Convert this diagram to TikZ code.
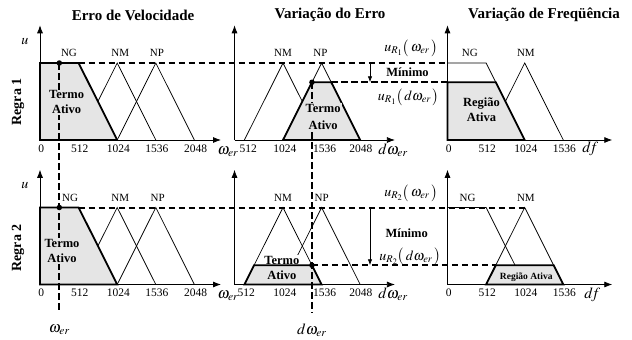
\documentclass[tikz,border=0pt]{standalone}
\usepackage{mathptmx}
\usepackage{fontspec}
\setmainfont{Liberation Serif}
\usetikzlibrary{arrows.meta}

\begin{document}
\begin{tikzpicture}[x=1pt,y=-1pt,
    axis/.style={line width=0.8pt,-{Latex[length=8pt,width=6pt]}},
    memb/.style={line width=0.75pt},
    active/.style={draw,fill=gray!20,line width=1.8pt},
    guide/.style={line width=2pt,dash pattern=on 6.5pt off 3.5pt},
    minarrow/.style={line width=0.8pt,-{Latex[length=6pt,width=4.5pt]}},
    dot/.style={circle,fill,inner sep=0pt,minimum size=5.5pt},
    ticklbl/.style={font=\fontsize{11.5}{13}\selectfont},
    setlbl/.style={font=\fontsize{11}{13}\selectfont},
    varlbl/.style={font=\fontsize{14}{16}\selectfont,inner sep=1pt},
    axlbl/.style={font=\fontsize{15.5}{17}\selectfont,inner sep=1pt},
    boldlbl/.style={font=\bfseries\fontsize{12.5}{15}\selectfont,align=center,inner sep=1pt},
    rowlbl/.style={font=\bfseries\fontsize{14}{16}\selectfont,rotate=90},
    paneltitle/.style={font=\bfseries\fontsize{15}{17}\selectfont},
  ]
  \useasboundingbox (0,0) rectangle (632,340);

  % Regra 1 -- erro de velocidade
  \begin{scope}[shift={(40,140)},x=38.6pt,y=77pt]
    \draw[axis] (0,0) -- (0,1.49);
    \draw[axis] (0,0) -- (4.69,0);
    \draw[memb] (1,0) -- (2,1) -- (3,0);
    \draw[memb] (2,0) -- (3,1) -- (4,0);
    \draw[active] (0,0) -- (0,1) -- (1,1) -- (2,0) -- cycle;
    \foreach \v/\t in {0/0,1/512,2/1024,3/1536,4/2048}
      \node[ticklbl] (eA\v) at (\v+0.03,-0.11) {\t};
    \node[setlbl] (ngA1) at (0.75,1.13) {NG};
    \node[setlbl] (nmA1) at (2.08,1.13) {NM};
    \node[setlbl] (npA1) at (3.03,1.13) {NP};
    \node[varlbl] (uA1) at (-0.39,1.28) {$u$};
    \node[axlbl] (xA1) at (4.87,-0.15) {$\omega_{er}$};
    \coordinate (wA1) at (0.5,1);
    \coordinate (cA1) at (1,1);
    \coordinate (tA1) at (0.69,0.49);
  \end{scope}

  % Regra 1 -- variacao do erro
  \begin{scope}[shift={(205.8,140)},x=38.6pt,y=77pt]
    \draw[axis] (0.744,0) -- (0.744,1.49);
    \draw[axis] (0.744,0) -- (4.90,0);
    \draw[memb] (1,0) -- (2,1) -- (3,0);
    \draw[memb] (2,0) -- (3,1) -- (4,0);
    \draw[active] (2,0) -- (2.75,0.75) -- (3.25,0.75) -- (4,0) -- cycle;
    \foreach \v/\t in {1.1/512,2.05/1024,3.08/1536,4.02/2048}
      \node[ticklbl] at (\v,-0.11) {\t};
    \node[setlbl] (nmB1) at (2,1.13) {NM};
    \node[setlbl] (npB1) at (2.97,1.13) {NP};
    \node[axlbl] (xB1) at (4.85,-0.13) {$d\omega_{er}$};
    \coordinate (pB1) at (2.75,0.75);
    \coordinate (rB1) at (3.25,0.75);
    \coordinate (tB1) at (3.04,0.30);
  \end{scope}

  % Regra 1 -- variacao de frequencia
  \begin{scope}[shift={(447.5,140)},x=38.6pt,y=77pt]
    \draw[axis] (0,0) -- (0,1.49);
    \draw[axis] (0,0) -- (4.27,0);
    \draw[memb] (0,1) -- (1,1) -- (2,0);
    \draw[memb] (1,0) -- (2,1) -- (3,0);
    \draw[active] (0,0) -- (0,0.75) -- (1.25,0.75) -- (2,0) -- cycle;
    \foreach \v/\t in {0/0,1/512,2/1024,3/1536}
      \node[ticklbl] (eC\v) at (\v+0.03,-0.11) {\t};
    \node[setlbl] (ngC1) at (0.58,1.13) {NG};
    \node[setlbl] (nmC1) at (2.03,1.13) {NM};
    \node[axlbl] (xC1) at (3.7,-0.11) {$d\!f$};
    \node[boldlbl] (regC1) at (0.88,0.39) {Região\\Ativa};
    \coordinate (axC1) at (0,1);
    \coordinate (lvC1) at (0,0.75);
  \end{scope}

  % Regra 2 -- erro de velocidade
  \begin{scope}[shift={(40,284.5)},x=38.6pt,y=77pt]
    \draw[axis] (0,0) -- (0,1.49);
    \draw[axis] (0,0) -- (4.69,0);
    \draw[memb] (1,0) -- (2,1) -- (3,0);
    \draw[memb] (2,0) -- (3,1) -- (4,0);
    \draw[active] (0,0) -- (0,1) -- (1,1) -- (2,0) -- cycle;
    \foreach \v/\t in {0/0,1/512,2/1024,3/1536,4/2048}
      \node[ticklbl] (fA\v) at (\v+0.03,-0.11) {\t};
    \node[setlbl] (ngA2) at (0.78,1.13) {NG};
    \node[setlbl] (nmA2) at (2.08,1.13) {NM};
    \node[setlbl] (npA2) at (3.05,1.13) {NP};
    \node[varlbl] (uA2) at (-0.39,1.28) {$u$};
    \node[axlbl] (xA2) at (4.87,-0.15) {$\omega_{er}$};
    \coordinate (wA2) at (0.5,1);
    \coordinate (cA2) at (1,1);
    \coordinate (tA2) at (0.57,0.435);
  \end{scope}

  % Regra 2 -- variacao do erro
  \begin{scope}[shift={(205.8,284.5)},x=38.6pt,y=77pt]
    \draw[axis] (0.744,0) -- (0.744,1.49);
    \draw[axis] (0.744,0) -- (4.90,0);
    \draw[memb] (1,0) -- (2,1) -- (3,0);
    \draw[memb] (2,0) -- (3,1) -- (4,0);
    \node[boldlbl,fill=white] (termB2) at (1.97,0.31) {Termo};
    \draw[active] (1,0) -- (1.25,0.25) -- (2.75,0.25) -- (3,0) -- cycle;
    \node[boldlbl] (ativB2) at (1.97,0.123) {Ativo};
    \foreach \v/\t in {1.05/512,2.05/1024,3.08/1536,4.02/2048}
      \node[ticklbl] at (\v,-0.11) {\t};
    \node[setlbl] (nmB2) at (2,1.13) {NM};
    \node[setlbl] (npB2) at (3,1.13) {NP};
    \node[axlbl] (xB2) at (4.85,-0.13) {$d\omega_{er}$};
    \coordinate (pB2) at (2.75,0.25);
  \end{scope}

  % Regra 2 -- variacao de frequencia
  \begin{scope}[shift={(447.5,284.5)},x=38.6pt,y=77pt]
    \draw[axis] (0,0) -- (0,1.49);
    \draw[axis] (0,0) -- (4.27,0);
    \draw[memb] (0,1) -- (1,1) -- (2,0);
    \draw[memb] (1,0) -- (2,1) -- (3,0);
    \draw[active] (1,0) -- (1.25,0.25) -- (2.75,0.25) -- (3,0) -- cycle;
    \foreach \v/\t in {0/0,1/512,2/1024,3/1536}
      \node[ticklbl] (fC\v) at (\v+0.03,-0.11) {\t};
    \node[setlbl] (ngC2) at (0.52,1.13) {NG};
    \node[setlbl] (nmC2) at (2.03,1.13) {NM};
    \node[axlbl] (xC2) at (3.75,-0.13) {$d\!f$};
    \node[boldlbl,font=\bfseries\fontsize{9.5}{11}\selectfont] (regC2) at (2.04,0.10) {Região Ativa};
    \coordinate (pkC2) at (2,1);
    \coordinate (glC2) at (1.25,0.25);
  \end{scope}

  % linhas de leitura
  \coordinate (mx) at (370,0);
  \coordinate (gEnd) at (0,313);
  \coordinate (lblRow) at (0,330);
  \draw[guide] (wA1) -- (wA1 |- gEnd);
  \draw[guide] (pB1) -- (pB1 |- gEnd);
  \draw[guide] (cA1) -- (axC1);
  \draw[guide] (rB1) -- (lvC1);
  \draw[guide] (cA2) -- (pkC2);
  \draw[guide] (pB2) -- (glC2);
  \draw[minarrow] (mx |- cA1) -- (mx |- pB1);
  \draw[minarrow] (mx |- cA2) -- (mx |- pB2);
  \node[dot] (dA1) at (wA1) {};
  \node[dot] (dA2) at (wA2) {};
  \node[dot] (dB1) at (pB1) {};
  \node[dot] (dB2) at (pB2) {};

  \node[boldlbl,fill=gray!20] (termA1) at (tA1) {Termo\\Ativo};
  \node[boldlbl,fill=gray!20] (termA2) at (tA2) {Termo\\Ativo};
  \node[boldlbl,fill=gray!20] (termB1) at (tB1) {Termo\\[2pt]Ativo};
  \node[axlbl] (wlbl) at (wA1 |- lblRow) {$\omega_{er}$};
  \node[axlbl] (dlbl) at (pB1 |- lblRow) {$d\omega_{er}$};

  % textos
  \node[paneltitle] (tit1) at (133,15) {Erro de Velocidade};
  \node[paneltitle] (tit2) at (330,15) {Variação do Erro};
  \node[paneltitle] (tit3) at (544,15) {Variação de Freqüência};
  \node[rowlbl] (regra1) at (18,102) {Regra 1};
  \node[rowlbl] (regra2) at (18,248) {Regra 2};
  \node[varlbl] (uw1) at (411,48) {$u_{R_1}\bigl(\,\omega_{er}\,\bigr)$};
  \node[boldlbl] (min1) at (407.5,72.5) {Mínimo};
  \node[varlbl] (ud1) at (408.5,97) {$u_{R_1}\bigl(\,d\omega_{er}\,\bigr)$};
  \node[varlbl] (uw2) at (411,193.3) {$u_{R_2}\bigl(\,\omega_{er}\,\bigr)$};
  \node[boldlbl] (min2) at (406.7,233.3) {Mínimo};
  \node[varlbl] (ud2) at (410,256.7) {$u_{R_2}\bigl(\,d\omega_{er}\,\bigr)$};
\end{tikzpicture}
\end{document}
